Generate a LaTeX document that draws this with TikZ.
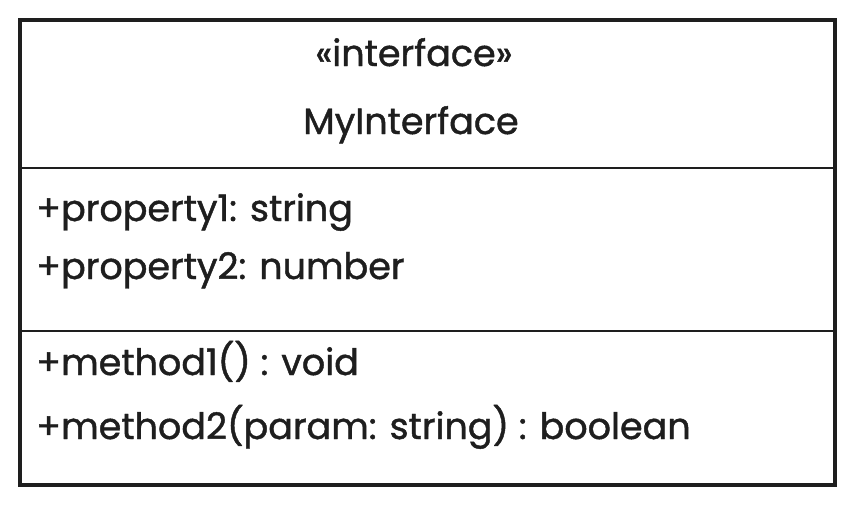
\documentclass[tikz,border=0pt]{standalone}
\usepackage{fontspec}
\newfontfamily\handfont{Poppins}[FakeBold=1.2]
\usepackage{xcolor}
\definecolor{ink}{HTML}{1E1E1E}
\tikzset{
  member/.style={anchor=base west, inner sep=0pt, text=ink, font=\handfont\fontsize{36.5}{42}\selectfont},
  heading/.style={anchor=base, inner sep=0pt, text=ink, font=\handfont\fontsize{36.5}{42}\selectfont},
}

\begin{document}
\begin{tikzpicture}[x=1pt,y=-1pt]
\useasboundingbox (0,0) rectangle (856,506);
% class box
\draw[ink, line width=4pt] (20,20) rectangle (835,485);
\coordinate (sepA-l) at (20,168);
\coordinate (sepA-r) at (835,168);
\coordinate (sepB-l) at (20,331);
\coordinate (sepB-r) at (835,331);
\draw[ink, line width=2pt] (sepA-l) -- (sepA-r);
\draw[ink, line width=2pt] (sepB-l) -- (sepB-r);
% header
\node[heading] (stereo) at (414,66) {«interface»};
\node[heading] (name) at (411,134) {MyInterface};
% properties
\node[member] (prop1) at (36,221) {+property1: string};
\node[member] (prop2) at (36,279) {+property2: number};
% methods
\node[member] (meth1) at (36,375) {+method1() : void};
\node[member] (meth2) at (36,439) {+method2(param: string) : boolean};
\end{tikzpicture}
\end{document}
